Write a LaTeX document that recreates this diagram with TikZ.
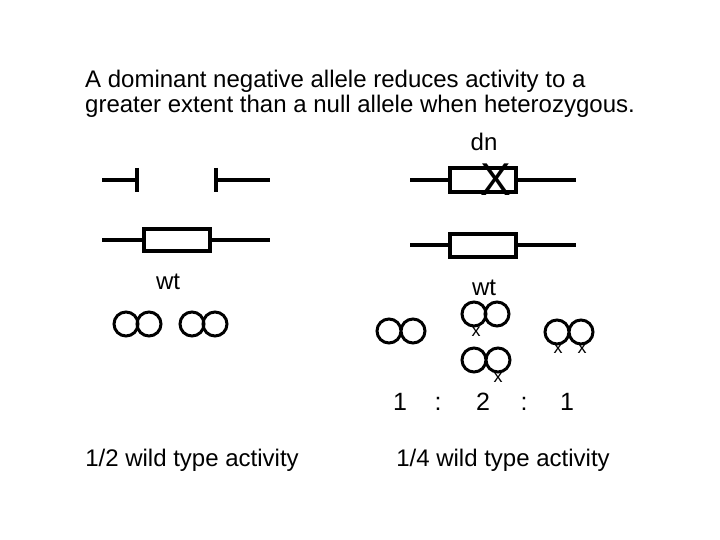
\documentclass[tikz,border=0pt]{standalone}
\usepackage{fontspec}
\setmainfont{Liberation Sans}
\tikzset{
  gene/.style={line width=4pt},
  chrom/.style={line width=3pt},
  lbl/.style={inner sep=0pt, anchor=base, font=\fontsize{24}{26}\selectfont},
  xmark/.style={inner sep=0pt, anchor=base, font=\fontsize{18}{18}\selectfont}
}
\begin{document}
\begin{tikzpicture}[x=1pt, y=-1pt]
  \useasboundingbox (0,0) rectangle (720,540);

  % Titre
  \node[lbl, anchor=base west] (title1) at (85,88)
    {A dominant negative allele reduces activity to a};
  \node[lbl, anchor=base west] (title2) at (85,113)
    {greater extent than a null allele when heterozygous.};

  % Allele nul et sauvage (gauche)
  \draw[gene] (102,180) -- (137,180);
  \draw[gene] (137,168) -- (137,192);
  \draw[gene] (216,168) -- (216,192);
  \draw[gene] (216,180) -- (270,180);
  \draw[gene] (102,240) -- (144,240);
  \draw[gene] (144,229) rectangle (210,251);
  \draw[gene] (210,240) -- (270,240);
  \node[lbl] (wtL) at (168,289) {wt};

  % Allele dominant negatif et sauvage (droite)
  \node[lbl] (dn) at (484,151) {dn};
  \draw[gene] (410,180) -- (450,180);
  \draw[gene] (450,168) rectangle (516,192);
  \draw[gene] (516,180) -- (576,180);
  \node[inner sep=0pt, anchor=base, font=\fontsize{46}{46}\selectfont] (cross) at (496,196) {X};
  \draw[gene] (410,245) -- (450,245);
  \draw[gene] (450,234) rectangle (516,257);
  \draw[gene] (516,245) -- (576,245);
  \node[lbl] (wtR) at (484,295) {wt};

  % Dimeres (gauche)
  \foreach \cx in {126,192}{
    \draw[chrom] (\cx,324) circle (12);
    \draw[chrom] (\cx+23,324) circle (12);
  }

  % Dimeres (droite)
  \draw[chrom] (389,331) circle (12) (413,331) circle (12);
  \draw[chrom] (474,314) circle (12) (497,314) circle (12);
  \draw[chrom] (474,360) circle (12) (498,360) circle (12);
  \draw[chrom] (557,332) circle (12) (581,332) circle (12);
  \foreach \mx/\my [count=\i] in {476/336, 498/382, 558/353, 582/353}
    \node[xmark] (x\i) at (\mx,\my) {x};

  % Rapport
  \foreach \rx/\rt [count=\i] in {400/1, 438/:, 483/2, 524/:, 567/1}
    \node[lbl, font=\fontsize{25}{25}\selectfont] (r\i) at (\rx,410) {\rt};

  % Activites
  \node[lbl] (actL) at (192,466) {1/2 wild type activity};
  \node[lbl] (actR) at (503,466) {1/4 wild type activity};
\end{tikzpicture}
\end{document}
